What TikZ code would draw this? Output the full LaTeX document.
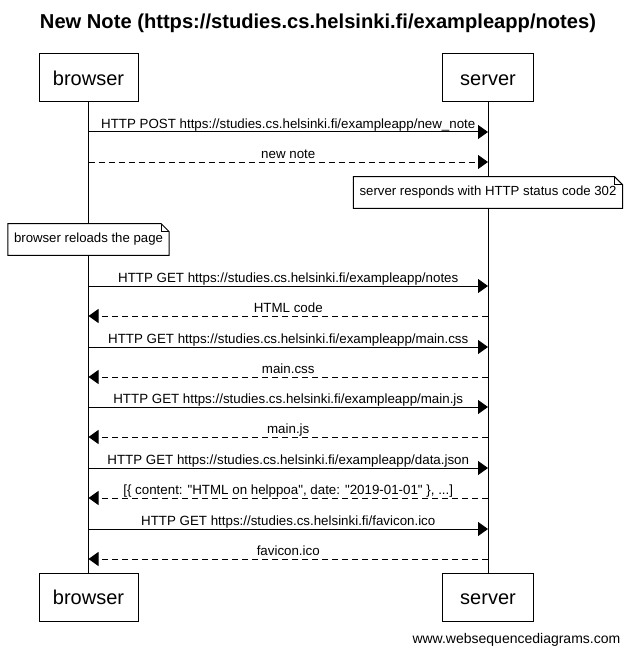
\documentclass[tikz,border=0pt]{standalone}
\usepackage{fontspec}
\setmainfont{Liberation Sans}
\usetikzlibrary{arrows.meta, positioning}
\tikzstyle{actor} = [rectangle, draw=black, fill=white, line width=0.75pt, minimum height=36pt, text height=11pt, text depth=0pt, text centered, font=\fontsize{15}{18}\selectfont]
\tikzstyle{memo} = [rectangle, fill=white, minimum height=23.25pt, inner xsep=4.5pt, text centered, font=\fontsize{9.9}{11.8}\selectfont]
\tikzstyle{arrow} = [line width=0.75pt, -{Triangle[length=7.5pt, width=10.5pt]}]
\tikzstyle{reply} = [arrow, dash pattern=on 4.5pt off 3pt]
\tikzstyle{lbl} = [anchor=base, yshift=2.5pt, inner sep=0pt, font=\fontsize{10}{12}\selectfont]
% folded corner round a note
\newcommand{\dogear}[1]{%
  \draw[line width=0.75pt] (#1.north west) -- ([xshift=-6pt]#1.north east) -- ([yshift=-6pt]#1.north east) -- (#1.south east) -- (#1.south west) -- cycle;
  \draw[line width=0.5pt] ([xshift=-6pt]#1.north east) |- ([yshift=-6pt]#1.north east);}
\begin{document}
\begin{tikzpicture}[x=0.75pt, y=-0.75pt]
\useasboundingbox (0,0) rectangle (633,656);

% Title
\node (title) at (318,23) {\fontsize{15.1}{18}\selectfont\bfseries New Note (https://studies.cs.helsinki.fi/exampleapp/notes)};

% Participants
\node (browser) [actor, minimum width=74.25pt] at (88.5,78) {browser};
\node (server) [actor, minimum width=68.25pt] at (488,78) {server};
\node (browser2) [actor, minimum width=74.25pt] at (88.5,597) {browser};
\node (server2) [actor, minimum width=68.25pt] at (488,597) {server};

% Lifelines
\draw[line width=0.75pt] (browser) -- (browser2);
\draw[line width=0.75pt] (server) -- (server2);

% Message rows
\foreach \n/\y in {1/132, 2/162, 3/286, 4/316, 5/347, 6/377, 7/407, 8/437, 9/468, 10/498, 11/529, 12/559} {
  \coordinate (b\n) at (browser.center |- 0,\y);
  \coordinate (s\n) at (server.center |- 0,\y);
}

\draw[arrow] (b1) -- node[lbl] {HTTP POST https://studies.cs.helsinki.fi/exampleapp/new\_note} (s1);
\draw[reply] (b2) -- node[lbl] {new note} (s2);

% Notes
\node (note1) [memo] at (server.center |- 0,192.5) {server responds with HTTP status code 302};
\dogear{note1}
\node (note2) [memo] at (browser.center |- 0,239.5) {browser reloads the page};
\dogear{note2}

\draw[arrow] (b3) -- node[lbl] {HTTP GET https://studies.cs.helsinki.fi/exampleapp/notes} (s3);
\draw[reply] (s4) -- node[lbl] {HTML code} (b4);
\draw[arrow] (b5) -- node[lbl] {HTTP GET https://studies.cs.helsinki.fi/exampleapp/main.css} (s5);
\draw[reply] (s6) -- node[lbl] {main.css} (b6);
\draw[arrow] (b7) -- node[lbl] {HTTP GET https://studies.cs.helsinki.fi/exampleapp/main.js} (s7);
\draw[reply] (s8) -- node[lbl] {main.js} (b8);
\draw[arrow] (b9) -- node[lbl] {HTTP GET https://studies.cs.helsinki.fi/exampleapp/data.json} (s9);
\draw[reply] (s10) -- node[lbl] {[\{ content: \textquotedbl HTML on helppoa\textquotedbl, date: \textquotedbl 2019-01-01\textquotedbl\ \}, ...]} (b10);
\draw[arrow] (b11) -- node[lbl] {HTTP GET https://studies.cs.helsinki.fi/favicon.ico} (s11);
\draw[reply] (s12) -- node[lbl] {favicon.ico} (b12);

% Watermark
\node (credit) [anchor=east, font=\fontsize{10.5}{12.6}\selectfont] at (625,640) {www.websequencediagrams.com};

\end{tikzpicture}
\end{document}
